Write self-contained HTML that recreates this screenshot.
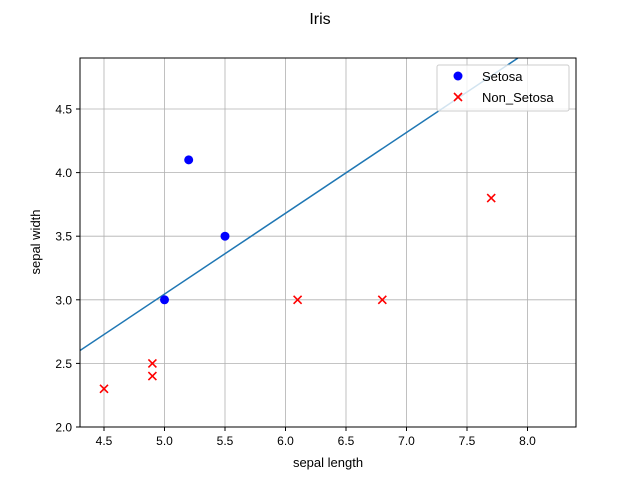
<!DOCTYPE html>
<html><head><meta charset="utf-8"><style>body{margin:0;background:#fff}svg{display:block;font-family:"Liberation Sans","DejaVu Sans",sans-serif}</style></head>
<body>
<svg id="c" width="640" height="480">
<rect width="640" height="480" fill="#fff"/>
<text x="320" y="24" font-size="16" text-anchor="middle">Iris</text>
<defs><clipPath id="clip"><rect x="80" y="58" width="496" height="369"/></clipPath></defs>
<g id="grid"></g>
<g id="plot" clip-path="url(#clip)"></g>
<rect x="80" y="58" width="496" height="369" fill="none" stroke="#000" stroke-width="1"/>
<g id="ticks"></g>
<text x="328" y="467" font-size="13" text-anchor="middle">sepal length</text>
<text transform="translate(40,242) rotate(-90)" font-size="13" text-anchor="middle">sepal width</text>
<g>
<rect x="437" y="65" width="132" height="46" rx="2" fill="#fff" fill-opacity="0.8" stroke="#ccc"/>
<circle cx="458" cy="76" r="4.5" fill="#0000ff"/>
<text x="482" y="81" font-size="13">Setosa</text>
<path d="M454,93 l8,8 M462,93 l-8,8" stroke="#ff0000" stroke-width="1.6"/>
<text x="482" y="102" font-size="13">Non_Setosa</text>
</g>
</svg>
<script>
const setosaX=[5.0,5.2,5.5];
const setosaY=[3.0,4.1,3.5];
const nonX=[4.5,4.9,4.9,6.1,6.8,7.7];
const nonY=[2.3,2.5,2.4,3.0,3.0,3.8];
const xTicks=[4.5,5.0,5.5,6.0,6.5,7.0,7.5,8.0];
const yTicks=[2.0,2.5,3.0,3.5,4.0,4.5];
const lineX=[4.3,7.92];
const lineY=[2.6,4.9];
const ns="http://www.w3.org/2000/svg";
const X=v=>104+(v-4.5)*121;
const Y=v=>427-(v-2.0)*127.2;
function mk(t,a,p){const e=document.createElementNS(ns,t);for(const k in a)e.setAttribute(k,a[k]);p.appendChild(e);return e;}
const grid=document.getElementById('grid'),ticks=document.getElementById('ticks'),plot=document.getElementById('plot');
xTicks.forEach(v=>{
 const g=mk('line',{x1:X(v),x2:X(v),y1:58,y2:427,stroke:'#b0b0b0','stroke-width':0.8},grid);
 
 
 mk('line',{x1:X(v),x2:X(v),y1:427,y2:431,stroke:'#000'},ticks);
 const t=mk('text',{x:X(v),y:445,'font-size':12,'text-anchor':'middle'},ticks);t.textContent=v.toFixed(1);
 
 
});
yTicks.forEach(v=>{
 const g=mk('line',{x1:80,x2:576,y1:Y(v),y2:Y(v),stroke:'#b0b0b0','stroke-width':0.8},grid);
 
 
 mk('line',{x1:76,x2:80,y1:Y(v),y2:Y(v),stroke:'#000'},ticks);
 const t=mk('text',{x:72,y:Y(v)+4.5,'font-size':12,'text-anchor':'end'},ticks);t.textContent=v.toFixed(1);
 
 
});
const ln=mk('line',{x1:X(lineX[0]),y1:Y(lineY[0]),x2:X(lineX[1]),y2:Y(lineY[1]),stroke:'#1f77b4','stroke-width':1.5},plot);


setosaX.forEach((x,i)=>{
 const c=mk('circle',{cx:X(x),cy:Y(setosaY[i]),r:4.5,fill:'#0000ff'},plot);
 
 
});
nonX.forEach((x,i)=>{
 const cx=X(x),cy=Y(nonY[i]);
 const p=mk('path',{d:`M${cx-4},${cy-4} l8,8 M${cx+4},${cy-4} l-8,8`,stroke:'#ff0000','stroke-width':1.6},plot);
 
 
});
</script>
</body></html>
